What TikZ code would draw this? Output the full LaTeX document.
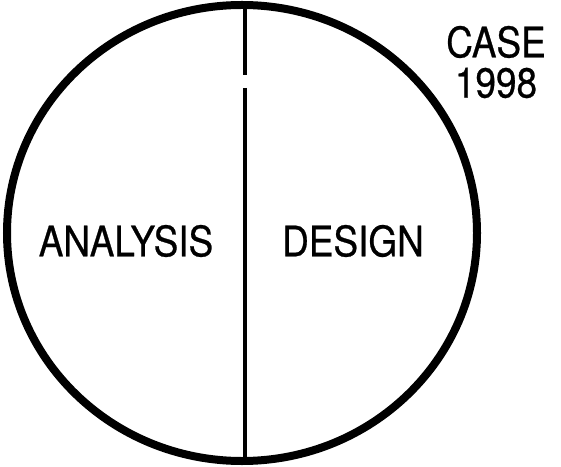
\documentclass[tikz,border=0pt]{standalone}
\usepackage{fontspec}
\setmainfont{TeX Gyre Heros}[FakeStretch=0.88,FakeBold=0.6]
\tikzset{
  lbl/.style={inner sep=0pt, font=\fontsize{42}{46}\selectfont},
  rim/.style={line width=8pt},
  divider/.style={line width=3.4pt}
}
\begin{document}
\begin{tikzpicture}[x=1pt,y=1pt]
\useasboundingbox (0,0) rectangle (561,466);
\draw[rim] (242,233) ellipse [x radius=235, y radius=228];
\coordinate (top) at (245,461);
\coordinate (gapA) at (245,391);
\coordinate (gapB) at (245,378);
\coordinate (bot) at (245,5);
\draw[divider] (top) -- (gapA);
\draw[divider] (gapB) -- (bot);
\node[lbl] (analysis) at (126,225) {ANALYSIS};
\node[lbl] (design) at (353,225) {DESIGN};
\node[lbl] (case) at (496,424) {CASE};
\node[lbl] (year) at (496,383) {1998};
\end{tikzpicture}
\end{document}
